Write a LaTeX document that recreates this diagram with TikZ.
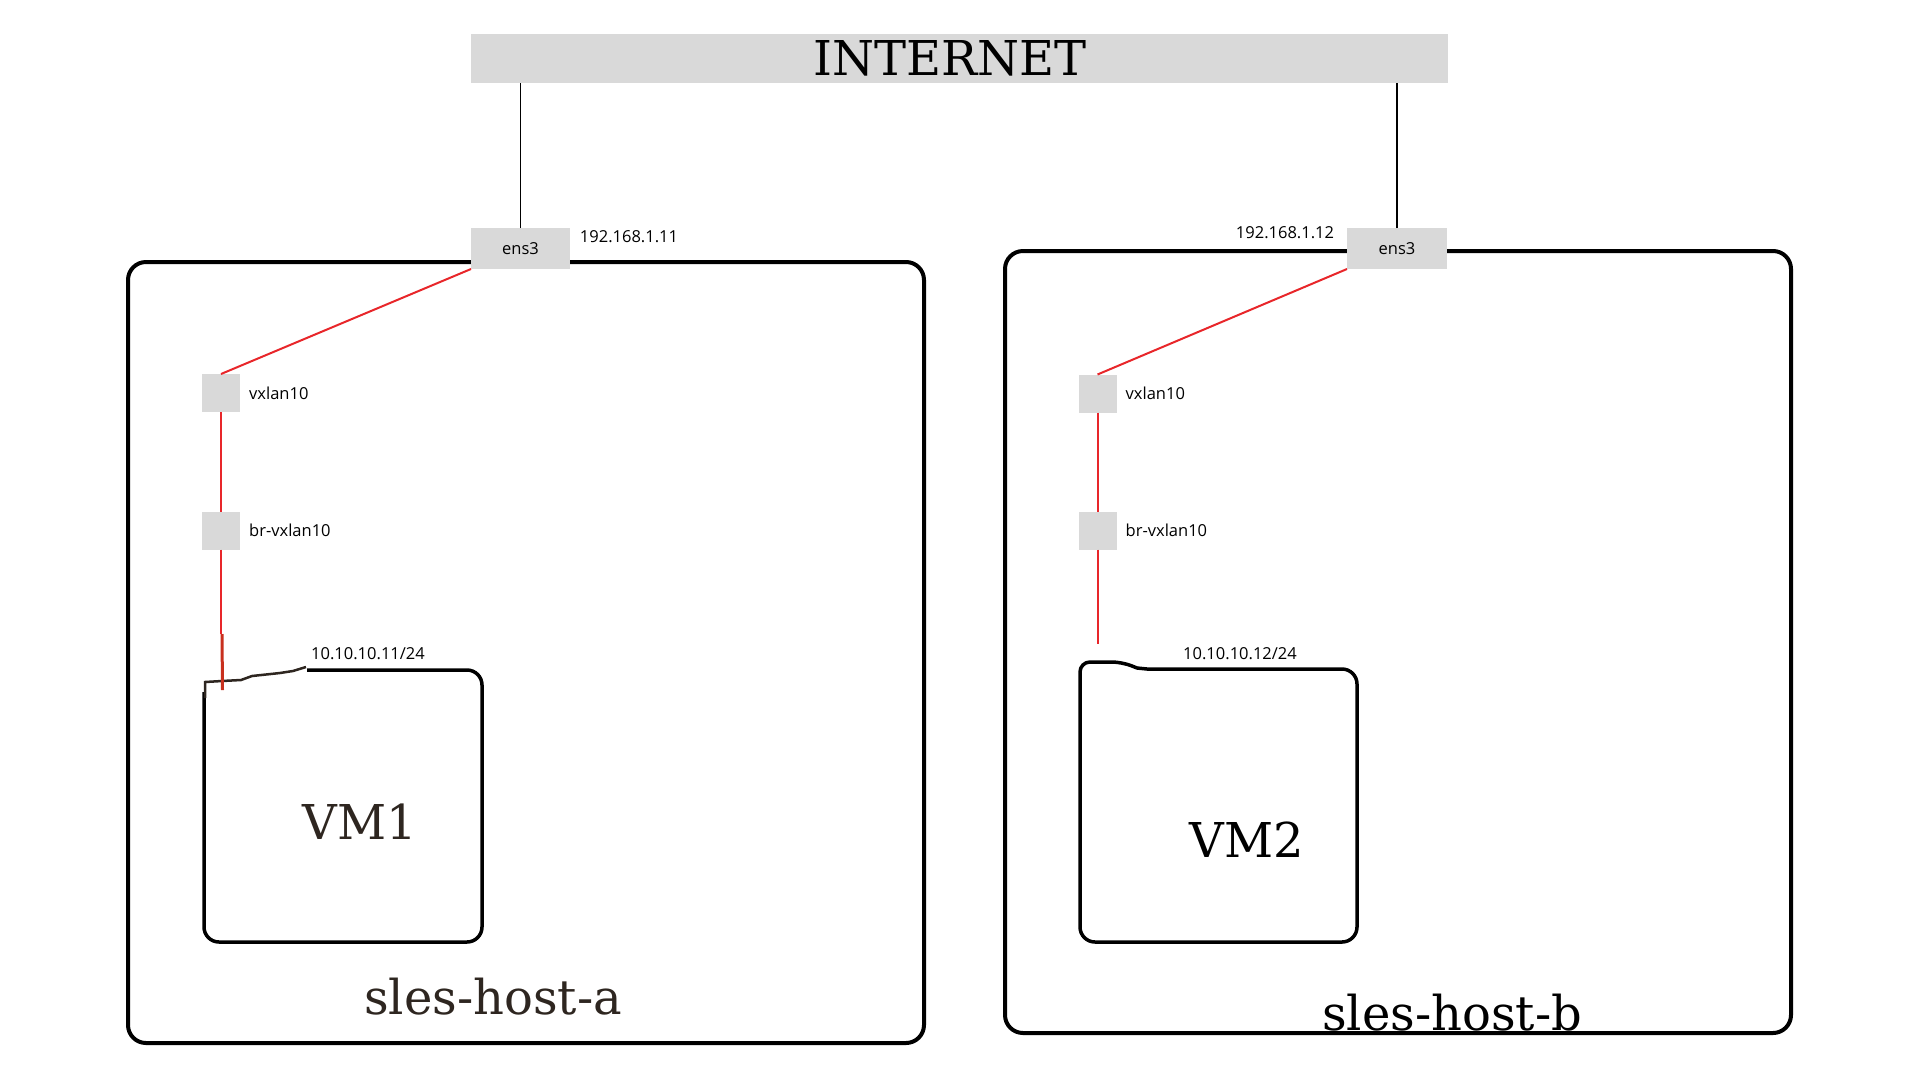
\documentclass[tikz,border=0pt]{standalone}
\usepackage{fontspec}
\setmainfont{DejaVu Serif}
\newfontfamily\smallsans{Open Sans}
\usetikzlibrary{positioning,calc}
\definecolor{portgray}{HTML}{D9D9D9}
\definecolor{linkred}{HTML}{E8262A}
\definecolor{stubred}{HTML}{C8301E}
\definecolor{vmbrown}{HTML}{2E2620}

\begin{document}
\begin{tikzpicture}[x=1pt,y=-1pt,
            port/.style={fill=portgray, inner sep=0pt, outer sep=0pt},
            iface/.style={port, minimum width=38pt, minimum height=38pt},
            host/.style={draw, line width=4pt, rounded corners=18pt, inner sep=0pt, outer sep=0pt},
            small/.style={font=\smallsans\fontsize{16.5}{19}\selectfont, inner sep=0pt},
            big/.style={font=\fontsize{48}{57}\selectfont, inner sep=0pt},
            link/.style={draw=linkred, line width=2pt},
            stub/.style={draw=stubred, line width=3pt},
            uplink/.style={draw=black, line width=1.5pt},
            vmline/.style={draw=black, line width=3.5pt}]
            \useasboundingbox (0,0) rectangle (1920,1080);
            % hosts
            \node[host, minimum width=796pt, minimum height=781pt] (ha) at (526,652.5) {};
            \node[host, minimum width=786pt, minimum height=782pt] (hb) at (1398,642) {};
            \node[big] (hal) [text=vmbrown] at (493,997) {sles-host-a};
            \node[big] (hbl) at (1452,1013) {sles-host-b};
            % internet and ens3
            \node[port, minimum width=977pt, minimum height=49pt] (inet) at (959.5,58.5) {};
            \node[big] (inetl) at (950,58) {INTERNET};
            \node[port, small, minimum width=99pt, minimum height=41pt] (e1) at (520.5,248.5) {ens3};
            \node[port, small, minimum width=100pt, minimum height=41pt] (e2) at (1397,248.5) {ens3};
            \draw[uplink] (e1.north) -- (e1.north |- inet.south);
            \draw[uplink] (e2.north) -- (e2.north |- inet.south);
            \node[small] (ip1) at (629,237) {192.168.1.11};
            \node[small] (ip2) at (1285,233) {192.168.1.12};
            % vxlan and bridge
            \node[iface] (v1) at (221,393) {};
            \node[iface] (b1) at (221,530.5) {};
            \node[iface] (v2) at (1097.5,393.5) {};
            \node[iface] (b2) at (1097.5,530.5) {};
            \foreach \n in {1,2}{
            \node[small, right=9pt of v\n] (v\n l) {vxlan10};
            \node[small, right=9pt of b\n] (b\n l) {br-vxlan10};
            \draw[link] (e\n.south west) -- (v\n.north);
            \draw[link] (v\n.south) -- (b\n.north);
            }
            % VM1
            \draw[vmline, rounded corners=15pt] (204,692) -- (204,942) -- (482,942) -- (482,670) -- (307,670);
            \draw[draw=vmbrown, line width=2.5pt] (205,698) -- (205,682) -- (222,681) -- (241,680) -- (252,676) -- (280,673) -- (293,671) -- (306,667);
            \coordinate (s1) at (222,634);
            \coordinate (vm1port) at (222.5,690);
            \draw[link] (b1.south) -- (b1.south |- s1);
            \draw[stub] (s1) -- (vm1port);
            \node[small] (n1) at (368,654) {10.10.10.11/24};
            \node[big, text=vmbrown] (vm1) at (360,822) {VM1};
            % VM2
            \draw[vmline] (1137,668) -- (1147,669) [rounded corners=15pt] -- (1357,669) -- (1357,942) -- (1080,942) [rounded corners=10pt] -- (1080,662) -- (1122,662) [sharp corners] -- (1137,668);
            \coordinate (vm2port) at (1097.5,644);
            \draw[link] (b2.south) -- (vm2port);
            \node[small] (n2) at (1240,654) {10.10.10.12/24};
            \node[big] (vm2) at (1247,840) {VM2};
\end{tikzpicture}
\end{document}
